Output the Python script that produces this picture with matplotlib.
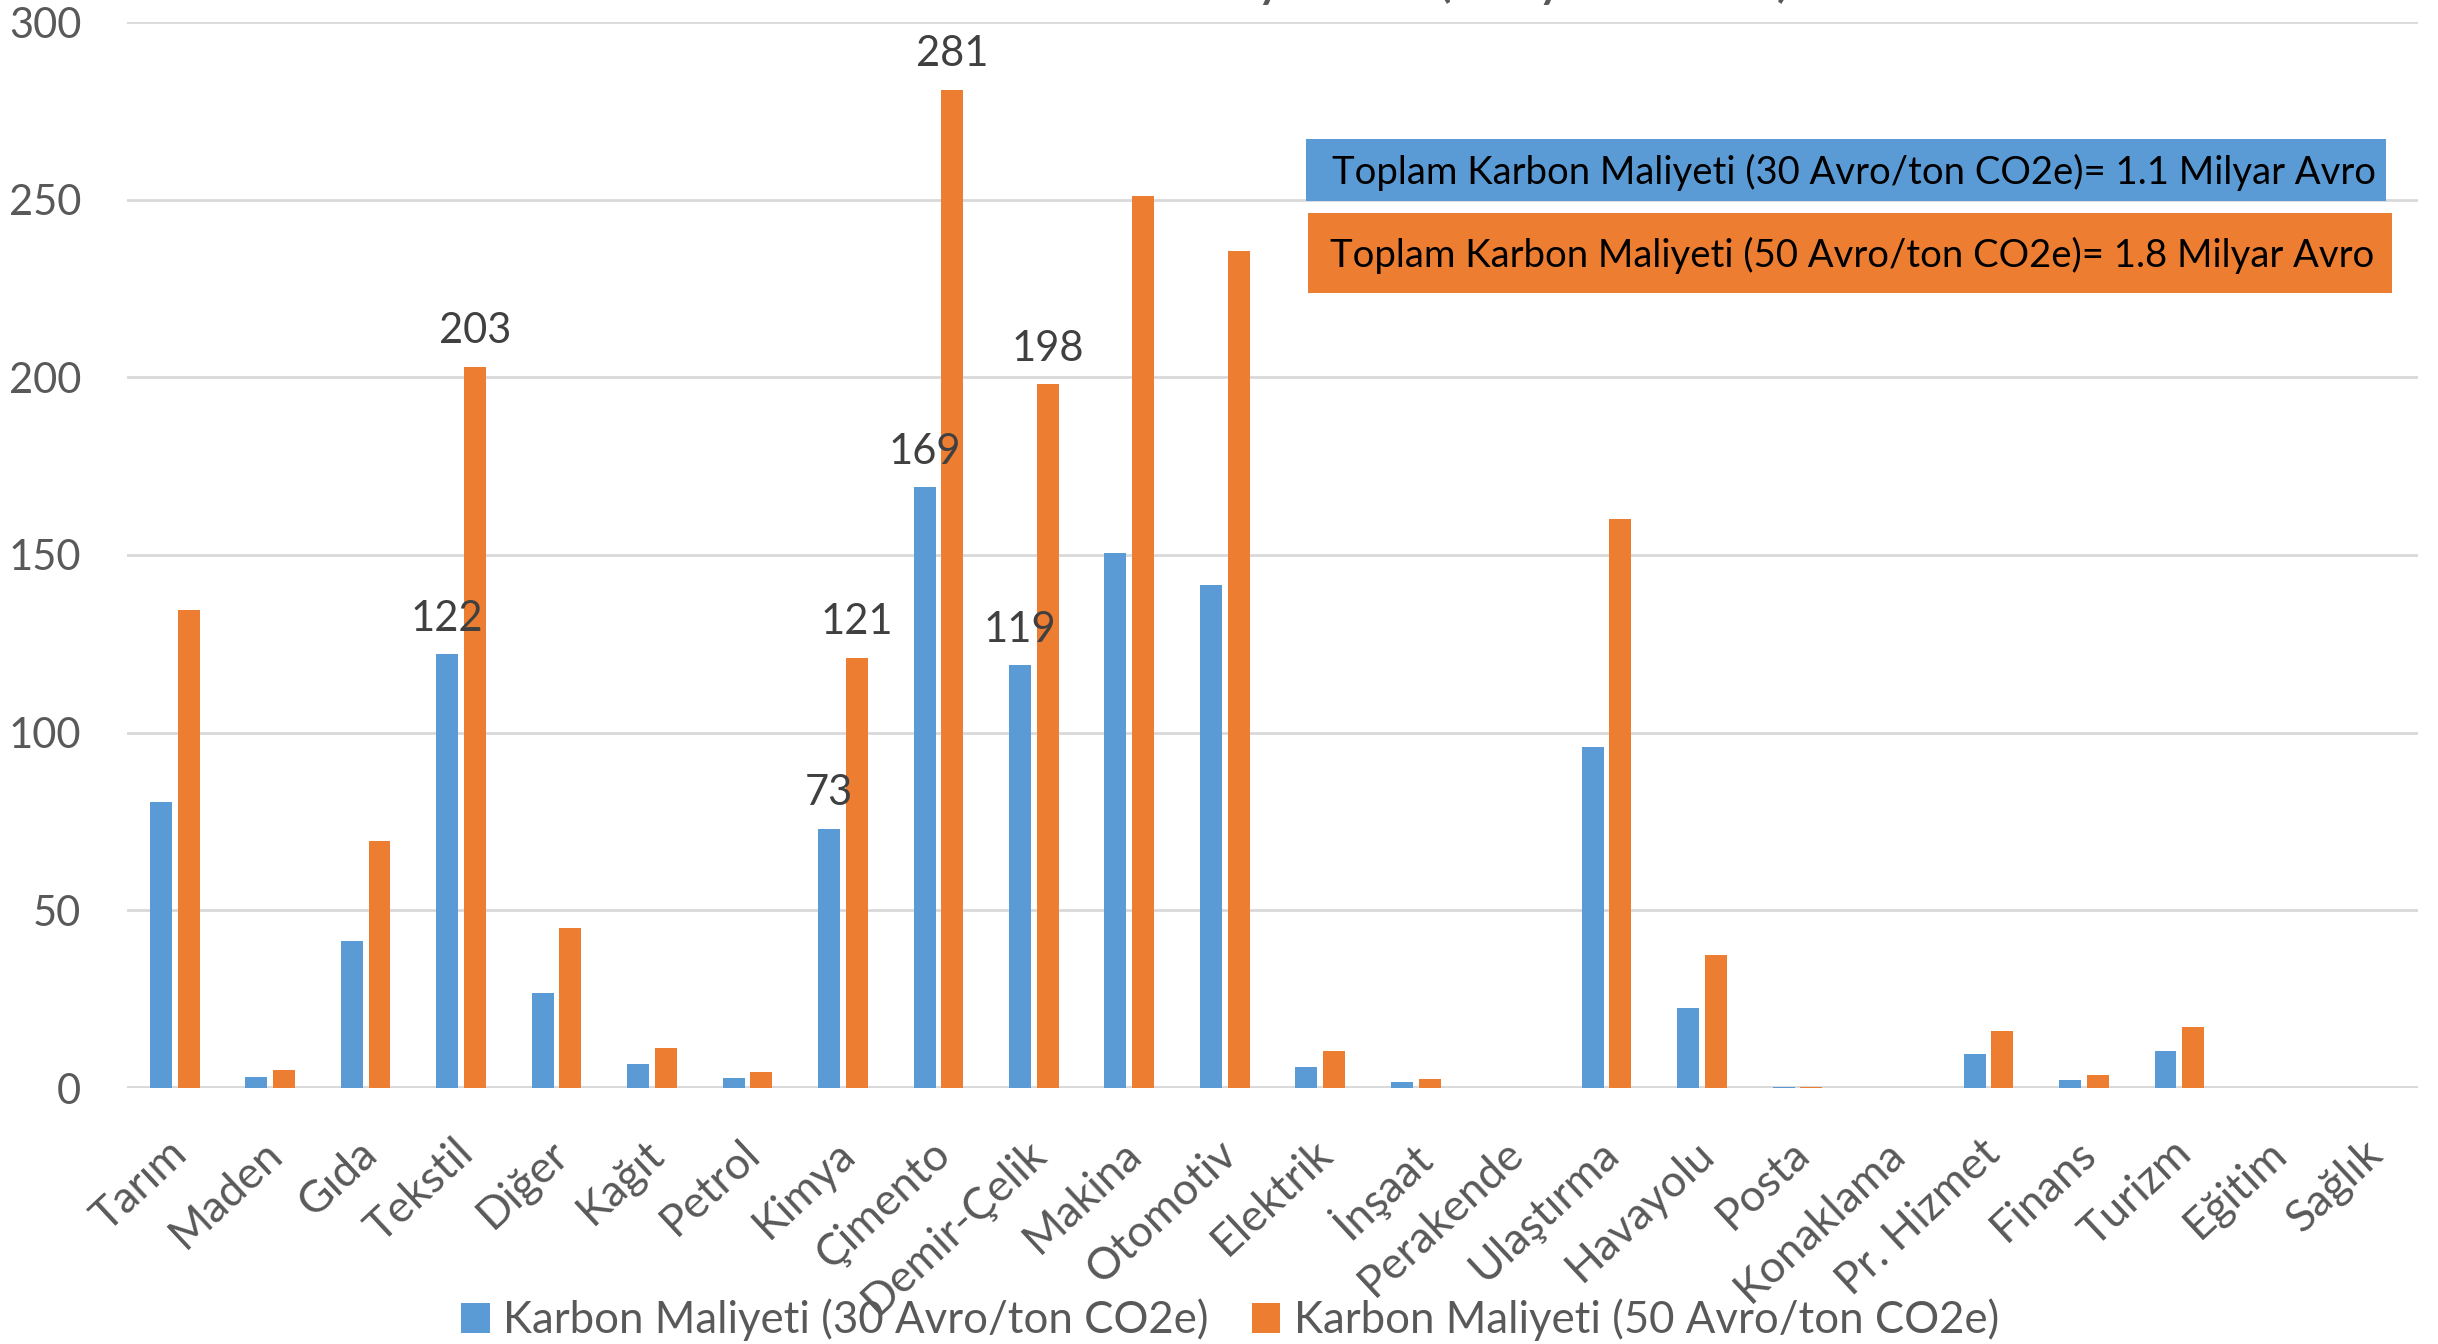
import matplotlib
matplotlib.use("Agg")
import matplotlib.pyplot as plt
from matplotlib.patches import Rectangle, Patch
from matplotlib.transforms import ScaledTranslation
import numpy as np

plt.rcParams['font.family'] = ['Lato', 'DejaVu Sans']

# sektörler ve karbon maliyetleri (milyon avro)
sektorler = ['Tarım', 'Maden', 'Gıda', 'Tekstil', 'Diğer', 'Kağıt', 'Petrol', 'Kimya',
             'Çimento', 'Demir-Çelik', 'Makina', 'Otomotiv', 'Elektrik', 'İnşaat',
             'Perakende', 'Ulaştırma', 'Havayolu', 'Posta', 'Konaklama', 'Pr. Hizmet',
             'Finans', 'Turizm', 'Eğitim', 'Sağlık']
maliyet_30 = [80.5, 3.2, 41.5, 122, 26.8, 6.7, 2.7, 73, 169, 119, 150.5, 141.5,
              6.0, 1.6, 0, 96, 22.5, 0.2, 0, 9.6, 2.2, 10.4, 0, 0]
maliyet_50 = [134.5, 5.2, 69.5, 203, 45, 11.2, 4.6, 121, 281, 198, 251, 235.5,
              10.3, 2.5, 0, 160, 37.5, 0.3, 0, 16, 3.6, 17.3, 0, 0]
etiketli = ['Tekstil', 'Kimya', 'Çimento', 'Demir-Çelik']

seri_adlari = ['Karbon Maliyeti (30 Avro/ton CO2e)', 'Karbon Maliyeti (50 Avro/ton CO2e)']
toplam_metinleri = ['Toplam Karbon Maliyeti (30 Avro/ton CO2e)= 1.1 Milyar Avro',
                    'Toplam Karbon Maliyeti (50 Avro/ton CO2e)= 1.8 Milyar Avro']
baslik = 'Sektörel Karbon Maliyetleri (Milyon Avro)'

mavi = '#5B9BD5'
turuncu = '#ED7D31'
gri = '#595959'

W, H = 2438, 1344
fig = plt.figure(figsize=(W / 100, H / 100), dpi=100)
ax = fig.add_axes([127 / W, 1 - 1088 / H, (2418 - 127) / W, (1088 - 22) / H])

x = np.arange(len(sektorler))
bw = 0.23
b1 = ax.bar(x - 0.145, maliyet_30, bw, color=mavi, zorder=3)
b2 = ax.bar(x + 0.145, maliyet_50, bw, color=turuncu, zorder=3)

# seçili sektörlerde değer etiketleri
for i, s in enumerate(sektorler):
    if s in etiketli:
        for off, vals in ((-0.145, maliyet_30), (0.145, maliyet_50)):
            ax.annotate(f'{vals[i]:.0f}', (x[i] + off, vals[i]), xytext=(0, 17),
                        textcoords='offset points', ha='center', va='baseline',
                        fontsize=30, color='#404040', zorder=4)

ax.set_xlim(-0.5, len(sektorler) - 0.5)
ax.set_ylim(0, 300)
ax.set_yticks(np.arange(0, 301, 50))
ax.yaxis.grid(True, color='#D9D9D9', linewidth=2, zorder=0)
ax.axhline(0, color='#D9D9D9', linewidth=3.5, zorder=2)
for sp in ax.spines.values():
    sp.set_visible(False)
ax.tick_params(axis='y', length=0, pad=33, labelsize=30, labelcolor=gri)
ax.tick_params(axis='x', length=0, pad=32, labelsize=32, labelcolor=gri)
ax.set_xticks(x)
ax.set_xticklabels(sektorler, rotation=43, ha='right', rotation_mode='anchor')
kaydir = ScaledTranslation(-0.08, 0, fig.dpi_scale_trans)
for lbl in ax.get_xticklabels():
    lbl.set_transform(lbl.get_transform() + kaydir)

# toplam maliyet kutuları
fig.add_artist(Rectangle((1306 / W, 1 - 201 / H), (2386 - 1306) / W, 62 / H,
                         transform=fig.transFigure, facecolor=mavi, edgecolor='none', zorder=5))
fig.add_artist(Rectangle((1308 / W, 1 - 293 / H), (2392 - 1308) / W, 80 / H,
                         transform=fig.transFigure, facecolor=turuncu, edgecolor='none', zorder=5))
fig.text(1332 / W, 1 - 172 / H, toplam_metinleri[0], fontsize=27.5, color='black',
         va='center', ha='left', zorder=6)
fig.text(1330 / W, 1 - 255 / H, toplam_metinleri[1], fontsize=27.5, color='black',
         va='center', ha='left', zorder=6)

# başlık (üst kenarda kırpılıyor)
fig.text(1792 / W, 1 + 5 / H, baslik, fontsize=43, color=gri, ha='right', va='baseline')

handles = [Patch(facecolor=mavi), Patch(facecolor=turuncu)]
fig.legend(handles, seri_adlari, loc='center', bbox_to_anchor=(0.5045, 1 - 1320 / H),
           ncol=2, frameon=False, fontsize=31.5, labelcolor=gri, handlelength=0.65,
           handleheight=0.65, handletextpad=0.3, columnspacing=1.0, borderpad=0)

fig.savefig('out.png', dpi=100)
